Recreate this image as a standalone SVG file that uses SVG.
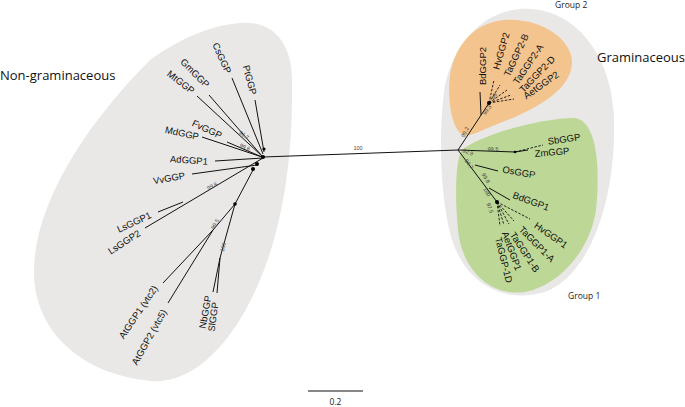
<svg xmlns="http://www.w3.org/2000/svg" width="685" height="407" viewBox="0 0 685 407">
<style>
.lf{font-family:"Liberation Sans",Arial,sans-serif;font-size:9.5px;fill:#111;text-anchor:middle;dominant-baseline:central}
.bs{font-family:"Liberation Sans",Arial,sans-serif;font-size:5.5px;fill:#444;text-anchor:middle;dominant-baseline:central}
.ti{font-family:"Open Sans","Noto Sans",sans-serif;font-size:13px;fill:#111}
.gr{font-family:"Open Sans","Noto Sans",sans-serif;font-size:8.5px;fill:#222}
.br{stroke:#111;stroke-width:1;fill:none}
.da{stroke:#111;stroke-width:0.9;fill:none;stroke-dasharray:2.5,1.5}
.dot{fill:#000}
</style>
<rect width="685" height="407" fill="#fff"/>
<g id="blob-non-graminaceous"><path d="M240,23 C270,20 292,40 292,80 C293,150 285,220 260,280 C235,340 195,385 150,381 C80,374 33,330 34,270 C35,200 90,120 150,60 C185,35 215,25 240,23 Z" fill="#e9e8e7"/></g>
<g id="blob-graminaceous"><path d="M520,9 C570,5 612,50 614,120 C616,200 590,275 545,292 C500,305 465,280 452,240 C440,200 438,130 445,85 C455,40 485,12 520,9 Z" fill="#e9e8e7"/></g>
<g id="blob-group2"><path d="M505,20 C542,18 572,40 572,62 C572,92 530,112 495,125 C480,131 470,137 463,135 C452,130 447,100 450,75 C455,45 475,22 505,20 Z" fill="#f4c48e"/></g>
<g id="blob-group1"><path d="M462,150 C480,135 540,118 575,118 C598,122 600,170 596,210 C590,250 560,285 525,292 C490,297 462,270 458,230 C455,200 455,160 462,150 Z" fill="#bcd796"/></g>
<g id="connectors">
<path class="br" d="M263,157 L458,150"/>
<path class="br" d="M232,78 L263,154"/>
<path class="br" d="M255,100 L264,152"/>
<path class="br" d="M209,95 L262,156"/>
<path class="br" d="M197,96 L262,156"/>
<path class="br" d="M227,142 L262,157"/>
<path class="br" d="M202,137 L262,157"/>
<path class="br" d="M215,161 L263,158"/>
<path class="br" d="M192,174 L257,165"/>
<path class="br" d="M145,228 L263,158"/>
<path class="br" d="M158,212 L183,202"/>
<path class="br" d="M253,170 L235,204 L213,230"/>
<path class="br" d="M213,230 L163,283"/>
<path class="br" d="M213,230 L168,303"/>
<path class="br" d="M235,204 L220,258 L213,292"/>
<path class="br" d="M220,258 L217,293"/>
<path class="br" d="M458,150 L489,103"/>
<path class="br" d="M481,115 L480,92"/>
<path class="da" d="M489,103 L494,80"/>
<path class="da" d="M489,103 L500,85"/>
<path class="da" d="M489,103 L507,90"/>
<path class="da" d="M489,103 L511,95"/>
<path class="da" d="M489,103 L514,99"/>
<path class="br" d="M458,150 L515,152 L528,150"/>
<path class="da" d="M515,152 L543,145"/>
<path class="br" d="M458,150 L497,202"/>
<path class="br" d="M475,165 L498,171"/>
<path class="br" d="M489,188 L510,200"/>
<path class="da" d="M497,202 L500,226"/>
<path class="da" d="M497,202 L504,225"/>
<path class="da" d="M497,202 L509,224"/>
<path class="da" d="M497,202 L514,221"/>
<path class="da" d="M497,202 L530,219"/>
<circle class="dot" cx="263" cy="157" r="2"/>
<circle class="dot" cx="264" cy="149" r="1.6"/>
<circle class="dot" cx="257" cy="164" r="2"/>
<circle class="dot" cx="253" cy="169" r="2"/>
<circle class="dot" cx="235" cy="204" r="1.8"/>
<circle class="dot" cx="489" cy="103" r="2"/>
<circle class="dot" cx="515" cy="152" r="1.3"/>
<circle class="dot" cx="497" cy="202" r="2"/>
<text class="bs" x="358" y="148">100</text>
<text class="bs" transform="translate(244,135) rotate(35)">96.7</text>
<text class="bs" transform="translate(245,147) rotate(22)">99.6</text>
<text class="bs" transform="translate(212,186) rotate(-28)">99.8</text>
<text class="bs" transform="translate(215,224) rotate(-60)">99.5</text>
<text class="bs" transform="translate(223,247) rotate(-75)">100</text>
<text class="bs" transform="translate(465,132) rotate(-65)">99.2</text>
<text class="bs" transform="translate(487,110) rotate(-55)">99.3</text>
<text class="bs" transform="translate(494,96) rotate(-60)">99</text>
<text class="bs" transform="translate(468,152) rotate(20)">92.9</text>
<text class="bs" transform="translate(493,149) rotate(-3)">99.5</text>
<text class="bs" transform="translate(469,164) rotate(55)">94.7</text>
<text class="bs" transform="translate(486,178) rotate(60)">99.8</text>
<text class="bs" transform="translate(487,192) rotate(60)">100</text>
<text class="bs" transform="translate(490,208) rotate(70)">97.5</text>
</g>
<g id="nodes">
<text class="lf" transform="translate(222,58) rotate(66)">CsGGP</text>
<text class="lf" transform="translate(250,80) rotate(75)">PtGGP</text>
<text class="lf" transform="translate(195,73) rotate(45)">GmGGP</text>
<text class="lf" transform="translate(181,82) rotate(38)">MtGGP</text>
<text class="lf" transform="translate(207,129) rotate(25)">FvGGP</text>
<text class="lf" transform="translate(182,133) rotate(12)">MdGGP</text>
<text class="lf" transform="translate(189,160) rotate(4)">AdGGP1</text>
<text class="lf" transform="translate(169,178) rotate(-10)">VvGGP</text>
<text class="lf" transform="translate(134,222) rotate(-25)">LsGGP1</text>
<text class="lf" transform="translate(124,242) rotate(-33)">LsGGP2</text>
<text class="lf" transform="translate(138,312) rotate(-56)">AtGGP1 (vtc2)</text>
<text class="lf" transform="translate(149,337) rotate(-61)">AtGGP2 (vtc5)</text>
<text class="lf" transform="translate(205,312) rotate(-80)">NbGGP</text>
<text class="lf" transform="translate(213,317) rotate(-82)">SlGGP</text>
<text class="lf" transform="translate(482,66) rotate(-90)">BdGGP2</text>
<text class="lf" transform="translate(501,51) rotate(-74)">HvGGP2</text>
<text class="lf" transform="translate(516,55) rotate(-65)">TaGGP2-B</text>
<text class="lf" transform="translate(528,64) rotate(-56)">TaGGP2-A</text>
<text class="lf" transform="translate(537,74) rotate(-46)">TaGGP2-D</text>
<text class="lf" transform="translate(541,85) rotate(-35)">AetGGP2</text>
<text class="lf" transform="translate(564,139) rotate(-8)">SbGGP</text>
<text class="lf" transform="translate(552,152) rotate(-5)">ZmGGP</text>
<text class="lf" transform="translate(519,172) rotate(10)">OsGGP</text>
<text class="lf" transform="translate(531,201) rotate(20)">BdGGP1</text>
<text class="lf" transform="translate(551,235) rotate(35)">HvGGP1</text>
<text class="lf" transform="translate(537,244) rotate(45)">TaGGP1-A</text>
<text class="lf" transform="translate(525,252) rotate(57)">TaGGP1-B</text>
<text class="lf" transform="translate(512,251) rotate(70)">AetGGP1</text>
<text class="lf" transform="translate(504,260) rotate(76)">TaGGP-1D</text>
</g>
<g id="titles">
<text class="ti" x="0" y="80">Non-graminaceous</text>
<text class="ti" x="597" y="62">Graminaceous</text>
<text class="gr" x="555" y="8">Group 2</text>
<text class="gr" x="568" y="299">Group 1</text>
</g>
<g id="scale">
<path class="br" d="M308,391 L363,391"/>
<text class="gr" x="335.5" y="405" text-anchor="middle">0.2</text>
</g>
</svg>
